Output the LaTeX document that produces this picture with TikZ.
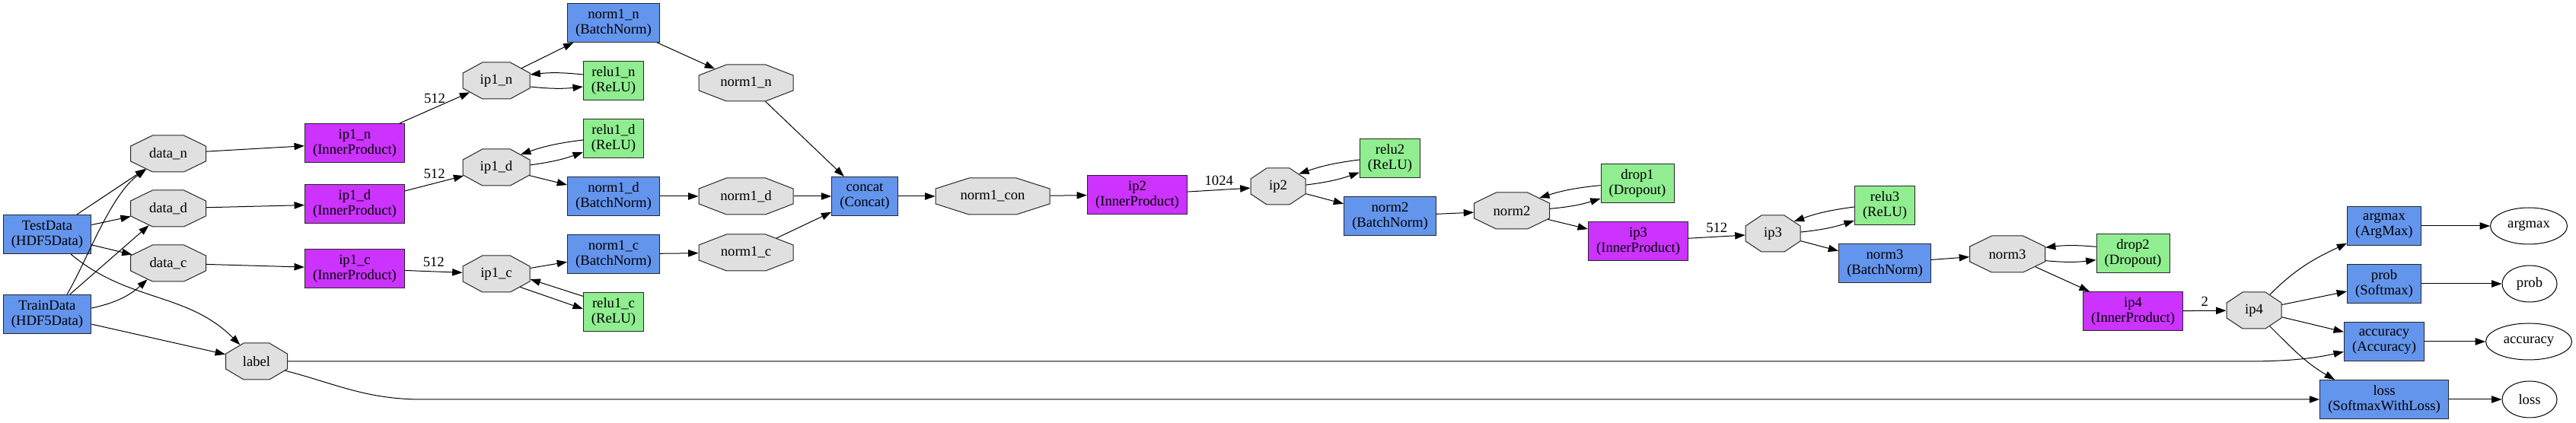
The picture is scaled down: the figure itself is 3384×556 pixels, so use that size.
\documentclass[tikz,border=0pt]{standalone}
\usepackage{fontspec}
\setmainfont{Liberation Serif}
\usepackage{tikz}
\usetikzlibrary{arrows.meta,shapes.geometric}
\usepackage{xcolor}
\definecolor{cfBlue}{HTML}{6495ED}
\definecolor{ipViolet}{HTML}{CC33FF}
\definecolor{actGreen}{HTML}{90EE90}
\definecolor{blobGrey}{HTML}{E0E0E0}
\newcommand{\netfont}{\fontsize{14pt}{15pt}\selectfont}

\makeatletter
% stretched octagon for the blobs
\pgfdeclareshape{netblob}{%
  \inheritsavedanchors[from=rectangle]%
  \inheritanchor[from=rectangle]{center}%
  \inheritanchor[from=rectangle]{mid}%
  \inheritanchor[from=rectangle]{base}%
  \inheritanchor[from=rectangle]{north}%
  \inheritanchor[from=rectangle]{south}%
  \inheritanchor[from=rectangle]{east}%
  \inheritanchor[from=rectangle]{west}%
  \backgroundpath{%
    \southwest\pgf@xa=\pgf@x\pgf@ya=\pgf@y
    \northeast\pgf@xb=\pgf@x\pgf@yb=\pgf@y
    \pgfmathsetlength\pgf@xc{\pgfkeysvalueof{/pgf/outer xsep}}%
    \pgfmathsetlength\pgf@yc{\pgfkeysvalueof{/pgf/outer ysep}}%
    \advance\pgf@xa by\pgf@xc\advance\pgf@ya by\pgf@yc
    \advance\pgf@xb by-\pgf@xc\advance\pgf@yb by-\pgf@yc
    \edef\nbL{\the\pgf@xa}\edef\nbR{\the\pgf@xb}%
    \edef\nbB{\the\pgf@ya}\edef\nbT{\the\pgf@yb}%
    \pgf@xc=\pgf@xb\advance\pgf@xc by-\pgf@xa\pgf@xc=0.29289\pgf@xc
    \pgf@yc=\pgf@yb\advance\pgf@yc by-\pgf@ya\pgf@yc=0.29289\pgf@yc
    \advance\pgf@xa by\pgf@xc\advance\pgf@xb by-\pgf@xc
    \advance\pgf@ya by\pgf@yc\advance\pgf@yb by-\pgf@yc
    \edef\nbLi{\the\pgf@xa}\edef\nbRi{\the\pgf@xb}%
    \edef\nbBi{\the\pgf@ya}\edef\nbTi{\the\pgf@yb}%
    \pgfpathmoveto{\pgfqpoint{\nbLi}{\nbT}}%
    \pgfpathlineto{\pgfqpoint{\nbRi}{\nbT}}%
    \pgfpathlineto{\pgfqpoint{\nbR}{\nbTi}}%
    \pgfpathlineto{\pgfqpoint{\nbR}{\nbBi}}%
    \pgfpathlineto{\pgfqpoint{\nbRi}{\nbB}}%
    \pgfpathlineto{\pgfqpoint{\nbLi}{\nbB}}%
    \pgfpathlineto{\pgfqpoint{\nbL}{\nbBi}}%
    \pgfpathlineto{\pgfqpoint{\nbL}{\nbTi}}%
    \pgfpathclose
  }%
  \anchorborder{%
    \edef\nbdx{\the\pgf@x}\edef\nbdy{\the\pgf@y}%
    \southwest\edef\nbswx{\the\pgf@x}\edef\nbswy{\the\pgf@y}%
    \northeast\edef\nbnex{\the\pgf@x}\edef\nbney{\the\pgf@y}%
    \pgfmathsetmacro\nba{((\nbnex)-(\nbswx))/2}%
    \pgfmathsetmacro\nbb{((\nbney)-(\nbswy))/2}%
    \pgfmathsetmacro\nbcx{((\nbnex)+(\nbswx))/2}%
    \pgfmathsetmacro\nbcy{((\nbney)+(\nbswy))/2}%
    \pgfmathsetmacro\nbs{max(abs(\nbdx),abs(\nbdy),0.0001)}%
    \pgfmathsetmacro\nbux{(\nbdx)/\nbs}%
    \pgfmathsetmacro\nbuy{(\nbdy)/\nbs}%
    \pgfmathsetmacro\nbm{max(abs(\nbux)/\nba,abs(\nbuy)/\nbb,(\nbb*abs(\nbux)+\nba*abs(\nbuy))/(1.41421*\nba*\nbb))}%
    \pgfmathsetmacro\nbrx{(\nbux)/\nbm+(\nbcx)}%
    \pgfmathsetmacro\nbry{(\nbuy)/\nbm+(\nbcy)}%
    \pgf@x=\nbrx pt\relax
    \pgf@y=\nbry pt\relax
  }%
}
\makeatother

\begin{document}
\begin{tikzpicture}[x=0.75pt, y=0.75pt,
  layer/.style={draw=black!85, line width=0.75pt, fill=cfBlue, minimum height=38.25pt, inner xsep=8pt, inner ysep=2pt, align=center, font=\netfont},
  iplayer/.style={layer, fill=ipViolet},
  actlayer/.style={layer, fill=actGreen},
  blob/.style={shape=netblob, draw=black!85, line width=0.75pt, fill=blobGrey, minimum height=36pt, inner sep=0pt, font=\netfont},
  outblob/.style={ellipse, draw=black, line width=0.75pt, minimum height=36pt, inner sep=0pt, font=\netfont},
  flow/.style={-{Triangle[length=10pt,width=7pt]}, line width=0.75pt},
  sizelabel/.style={midway, above, inner sep=4pt, font=\netfont}]
\useasboundingbox (0,0) rectangle (3384,556);

\node[layer] (TestData) at (62,248) {TestData\\(HDF5Data)};
\node[layer] (TrainData) at (62,143) {TrainData\\(HDF5Data)};
\node[blob, minimum width=74.25pt] (datan) at (221,354) {data\_n};
\node[blob, minimum width=74.25pt] (datad) at (221,282) {data\_d};
\node[blob, minimum width=74.25pt] (datac) at (221,210) {data\_c};
\node[blob, minimum width=60.75pt] (lbl) at (337,81) {label};

\node[iplayer] (ip1nL) at (466,368) {ip1\_n\\(InnerProduct)};
\node[iplayer] (ip1dL) at (466,288) {ip1\_d\\(InnerProduct)};
\node[iplayer] (ip1cL) at (466,203) {ip1\_c\\(InnerProduct)};
\node[blob, minimum width=66pt] (ip1n) at (652,450) {ip1\_n};
\node[blob, minimum width=66pt] (ip1d) at (652,336) {ip1\_d};
\node[blob, minimum width=66pt] (ip1c) at (652,196) {ip1\_c};
\node[layer] (norm1nL) at (806,526) {norm1\_n\\(BatchNorm)};
\node[actlayer] (relu1nL) at (806,450) {relu1\_n\\(ReLU)};
\node[actlayer] (relu1dL) at (806,374) {relu1\_d\\(ReLU)};
\node[layer] (norm1dL) at (806,298) {norm1\_d\\(BatchNorm)};
\node[layer] (norm1cL) at (806,222) {norm1\_c\\(BatchNorm)};
\node[actlayer] (relu1cL) at (806,146) {relu1\_c\\(ReLU)};
\node[blob, minimum width=93pt] (norm1n) at (980,447) {norm1\_n};
\node[blob, minimum width=93pt] (norm1d) at (980,298) {norm1\_d};
\node[blob, minimum width=93pt] (norm1c) at (980,224) {norm1\_c};

\node[layer] (concatL) at (1136,298) {concat\\(Concat)};
\node[blob, minimum width=112.5pt] (norm1con) at (1304,298) {norm1\_con};
\node[iplayer] (ip2L) at (1494,300) {ip2\\(InnerProduct)};
\node[blob, minimum width=54pt] (ip2) at (1679,311) {ip2};
\node[actlayer] (relu2L) at (1826,348) {relu2\\(ReLU)};
\node[layer] (norm2L) at (1826,272) {norm2\\(BatchNorm)};
\node[blob, minimum width=74.25pt] (norm2) at (1986,279) {norm2};
\node[actlayer] (drop1L) at (2151,315) {drop1\\(Dropout)};
\node[iplayer] (ip3L) at (2152,239) {ip3\\(InnerProduct)};
\node[blob, minimum width=54pt] (ip3) at (2329,249) {ip3};
\node[actlayer] (relu3L) at (2476,286) {relu3\\(ReLU)};
\node[layer] (norm3L) at (2476,210) {norm3\\(BatchNorm)};
\node[blob, minimum width=74.25pt] (norm3) at (2637,222) {norm3};
\node[actlayer] (drop2L) at (2802,223) {drop2\\(Dropout)};
\node[iplayer] (ip4L) at (2802,147) {ip4\\(InnerProduct)};
\node[blob, minimum width=54pt] (ip4) at (2961,148) {ip4};

\node[layer] (argmaxL) at (3132,259) {argmax\\(ArgMax)};
\node[layer] (probL) at (3132,183) {prob\\(Softmax)};
\node[layer] (accuracyL) at (3132,107) {accuracy\\(Accuracy)};
\node[layer] (lossL) at (3132,31) {loss\\(SoftmaxWithLoss)};
\node[outblob, minimum width=75.75pt] (argmax) at (3322,259) {argmax};
\node[outblob, minimum width=54pt] (prob) at (3323,183) {prob};
\node[outblob, minimum width=84.75pt] (accuracy) at (3322,107) {accuracy};
\node[outblob, minimum width=54pt] (loss) at (3323,31) {loss};

\draw[flow] (TestData) -- (datan);
\draw[flow] (TestData) -- (datad);
\draw[flow] (TestData) -- (datac);
\draw[flow] (TestData) to[out=-40,in=135] (lbl);
\draw[flow] ([xshift=19.5pt]TrainData.north) .. controls (115,215) and (145,300) .. (datan);
\draw[flow] (TrainData) -- (datad);
\draw[flow] (TrainData) to[bend right=15] (datac);
\draw[flow] (TrainData) -- (lbl);

\draw[flow] (datan) -- (ip1nL);
\draw[flow] (datad) -- (ip1dL);
\draw[flow] (datac) -- (ip1cL);
\draw[flow] (ip1nL) -- node[sizelabel]{512} (ip1n);
\draw[flow] (ip1dL) -- node[sizelabel]{512} (ip1d);
\draw[flow] (ip1cL) -- node[sizelabel]{512} (ip1c);
\draw[flow] (ip1n) -- (norm1nL);
\draw[flow] ([yshift=6pt]relu1nL.west) to[bend right=6] ([yshift=6pt]ip1n.east);
\draw[flow] ([yshift=-6pt]ip1n.east) to[bend right=6] ([yshift=-6pt]relu1nL.west);
\draw[flow] ([yshift=-1.5pt]relu1dL.west) to[bend right=6] (ip1d.28);
\draw[flow] (ip1d.4) to[bend right=6] ([yshift=-13.5pt]relu1dL.west);
\draw[flow] (ip1d) -- (norm1dL);
\draw[flow] (ip1c) -- (norm1cL);
\draw[flow] ([yshift=15.5pt]relu1cL.west) -- (ip1c.-9);
\draw[flow] (ip1c.-29) -- ([yshift=3pt]relu1cL.west);
\draw[flow] (norm1nL) -- (norm1n);
\draw[flow] (norm1dL) -- (norm1d);
\draw[flow] (norm1cL) -- (norm1c);
\draw[flow] (norm1n) -- (concatL);
\draw[flow] (norm1d) -- (concatL);
\draw[flow] (norm1c) -- (concatL);

\draw[flow] (concatL) -- (norm1con);
\draw[flow] (norm1con) -- (ip2L);
\draw[flow] (ip2L) -- node[sizelabel]{1024} (ip2);
\draw[flow] ([yshift=-1.5pt]relu2L.west) to[bend right=6] (ip2.31);
\draw[flow] (ip2.3) to[bend right=6] ([yshift=-14pt]relu2L.west);
\draw[flow] (ip2) -- (norm2L);
\draw[flow] (norm2L) -- (norm2);
\draw[flow] ([yshift=-2pt]drop1L.west) to[bend right=6] (norm2.25);
\draw[flow] (norm2.3) to[bend right=6] ([yshift=-15pt]drop1L.west);
\draw[flow] (norm2) -- (ip3L);
\draw[flow] (ip3L) -- node[sizelabel]{512} (ip3);
\draw[flow] ([yshift=-1.5pt]relu3L.west) to[bend right=6] (ip3.30);
\draw[flow] (ip3.3) to[bend right=6] ([yshift=-15pt]relu3L.west);
\draw[flow] (ip3) -- (norm3L);
\draw[flow] (norm3L) -- (norm3);
\draw[flow] ([yshift=6.5pt]drop2L.west) to[bend right=6] ([yshift=6.5pt]norm3.east);
\draw[flow] ([yshift=-6.5pt]norm3.east) to[bend right=6] ([yshift=-6.5pt]drop2L.west);
\draw[flow] (norm3) -- (ip4L);
\draw[flow] (ip4L) -- node[sizelabel]{2} (ip4);

\draw[flow] (ip4) to[out=45,in=205] (argmaxL);
\draw[flow] (ip4) -- (probL);
\draw[flow] (ip4) -- (accuracyL);
\draw[flow] (ip4) to[out=-45,in=150] ([xshift=-48.75pt]lossL.north);
\draw[flow] (lbl.east) -- (2950,81) .. controls (3000,81) and (3035,84) .. ([yshift=-10pt]accuracyL.west);
\draw[flow] (lbl.-18) .. controls (440,52) and (480,31) .. (555,31) -- (lossL.west);
\draw[flow] (argmaxL) -- (argmax);
\draw[flow] (probL) -- (prob);
\draw[flow] (accuracyL) -- (accuracy);
\draw[flow] (lossL) -- (loss);
\end{tikzpicture}
\end{document}
